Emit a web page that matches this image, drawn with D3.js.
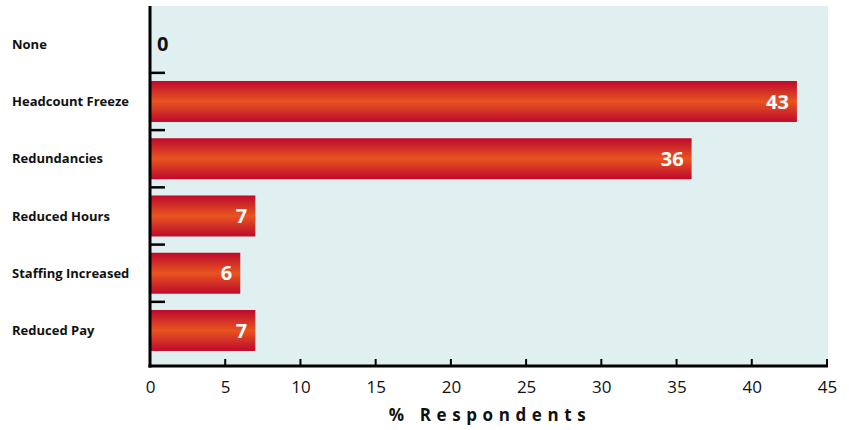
<!DOCTYPE html>
<html>
<head>
<meta charset="utf-8">
<script src="https://cdn.jsdelivr.net/npm/d3@7"></script>
<style>
  html, body { margin: 0; padding: 0; background: #ffffff; }
  svg { display: block; }
  text { font-family: "Open Sans", "Noto Sans", sans-serif; }
</style>
</head>
<body>
<svg id="chart" width="849" height="430"></svg>
<script>
// Measures taken in response to conditions (% respondents)
const categories = ["None", "Headcount Freeze", "Redundancies", "Reduced Hours", "Staffing Increased", "Reduced Pay"];
const values = [0, 43, 36, 7, 6, 7];
const xTicks = [0, 5, 10, 15, 20, 25, 30, 35, 40, 45];
const xTitle = "% Respondents";

const svg = d3.select("#chart");
const plot = { left: 150, right: 827, top: 6, bottom: 366 };

const x = d3.scaleLinear().domain([0, 45]).range([plot.left, plot.right]);
const y = d3.scaleBand()
  .domain(categories)
  .range([15.6, 359.1])
  .paddingInner(0.284)
  .paddingOuter(0.142);

// bar gradient: deep red edges, orange centre
const defs = svg.append("defs");
const grad = defs.append("linearGradient")
  .attr("id", "barGrad").attr("x1", 0).attr("y1", 0).attr("x2", 0).attr("y2", 1);
[["0%", "#bf0a2b"], ["22%", "#cf2a28"], ["50%", "#e9541f"], ["78%", "#cf2a28"], ["100%", "#bf0a2b"]]
  .forEach(([o, c]) => grad.append("stop").attr("offset", o).attr("stop-color", c));

// plot background
svg.append("rect")
  .attr("x", plot.left).attr("y", plot.top)
  .attr("width", plot.right - plot.left + 1).attr("height", plot.bottom - plot.top)
  .attr("fill", "#e0f0f0");

// bars
svg.append("g").selectAll("rect")
  .data(categories.map((c, i) => ({ c, v: values[i] })).filter(d => d.v > 0))
  .join("rect")
  .attr("x", x(0))
  .attr("y", d => y(d.c))
  .attr("width", d => x(d.v) - x(0))
  .attr("height", y.bandwidth())
  .attr("fill", "url(#barGrad)");

// value labels
svg.append("g").selectAll("text")
  .data(categories.map((c, i) => ({ c, v: values[i] })))
  .join("text")
  .attr("x", d => d.v > 0 ? x(d.v) - 8 : x(0) + 7)
  .attr("y", d => y(d.c) + y.bandwidth() / 2)
  .attr("dy", "0.36em")
  .attr("text-anchor", d => d.v > 0 ? "end" : "start")
  .attr("fill", d => d.v > 0 ? "#ffffff" : "#111111")
  .attr("font-size", 20)
  .attr("font-weight", 700)
  .text(d => d.v);

// category labels
svg.append("g").selectAll("text")
  .data(categories)
  .join("text")
  .attr("x", 12)
  .attr("y", d => y(d) + y.bandwidth() / 2)
  .attr("dy", "0.35em")
  .attr("fill", "#111111")
  .attr("font-size", 13)
  .attr("font-weight", 700)
  .text(d => d);

// separators between category bands on the left axis
const step = y.step();
svg.append("g").selectAll("line")
  .data(categories.slice(1))
  .join("line")
  .attr("x1", plot.left).attr("x2", plot.left + 15)
  .attr("y1", d => y(d) - (step - y.bandwidth()) / 2)
  .attr("y2", d => y(d) - (step - y.bandwidth()) / 2)
  .attr("stroke", "#000").attr("stroke-width", 2.5);

// bottom axis with inward ticks
const xAxis = d3.axisBottom(x).tickValues(xTicks).tickSize(0).tickPadding(15);
const gx = svg.append("g").attr("transform", `translate(0,${plot.bottom})`).call(xAxis);
gx.select(".domain").remove();
gx.selectAll("text")
  .attr("font-size", 17)
  .attr("fill", "#111")
  .attr("font-family", "'Open Sans', 'Noto Sans', sans-serif");
svg.append("g").selectAll("line")
  .data(xTicks.slice(1))
  .join("line")
  .attr("x1", d => x(d)).attr("x2", d => x(d))
  .attr("y1", plot.bottom - 7).attr("y2", plot.bottom)
  .attr("stroke", "#000").attr("stroke-width", 2);

// axis lines
svg.append("line")
  .attr("x1", plot.left).attr("x2", plot.left)
  .attr("y1", plot.top).attr("y2", plot.bottom + 1.5)
  .attr("stroke", "#000").attr("stroke-width", 3);
svg.append("line")
  .attr("x1", plot.left - 1.5).attr("x2", plot.right + 1)
  .attr("y1", plot.bottom).attr("y2", plot.bottom)
  .attr("stroke", "#000").attr("stroke-width", 3);

// axis title
svg.append("text")
  .attr("x", 490)
  .attr("y", 421)
  .attr("text-anchor", "middle")
  .attr("font-size", 17)
  .attr("font-weight", 700)
  .attr("letter-spacing", "5.6px")
  .attr("fill", "#111")
  .text(xTitle);
</script>
</body>
</html>
